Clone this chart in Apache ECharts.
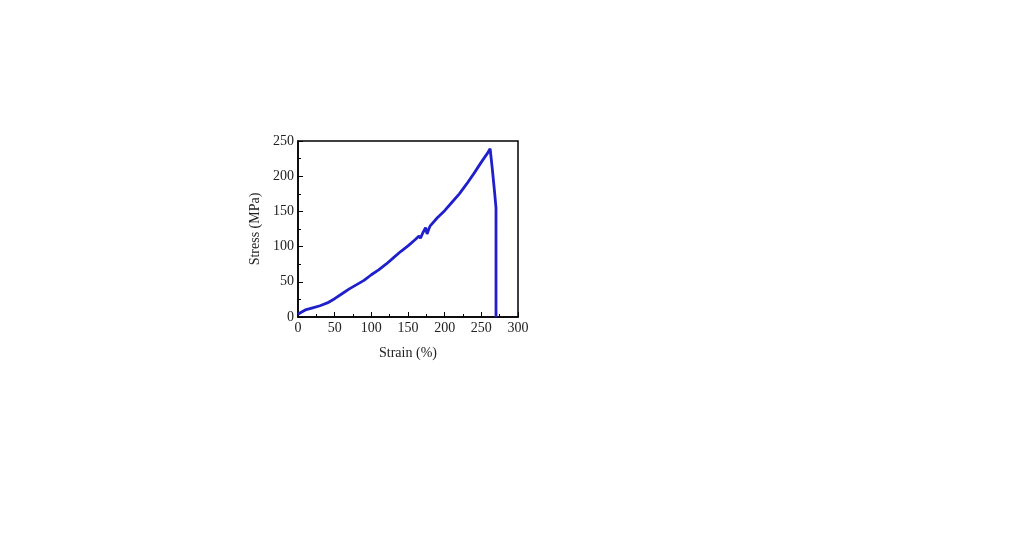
<!DOCTYPE html>
<html>
<head>
<meta charset="utf-8">
<script src="https://cdn.jsdelivr.net/npm/echarts@6/dist/echarts.min.js"></script>
<style>
html,body{margin:0;padding:0;background:#fff;}
#chart{width:1024px;height:549px;}
</style>
</head>
<body>
<div id="chart"></div>
<script>
// strain (%) and stress (MPa)
var strain = [0, 5, 10, 20, 30, 40, 50, 60, 70, 80, 90, 100, 110, 120, 130, 140, 150, 160, 165, 167, 170, 174, 176, 178, 180, 190, 200, 210, 220, 230, 240, 250, 258, 262, 265, 268, 270, 270];
var stress = [4, 7, 10, 13, 16, 20, 26, 33, 40, 46, 52, 60, 67, 75, 84, 93, 101, 110, 115, 112, 119, 127, 118, 124, 129, 141, 151, 163, 175, 189, 204, 220, 232, 239, 210, 178, 155, 0];
var xTicks = [0, 300, 50];
var yTicks = [0, 250, 50];

var pts = [];
for (var i = 0; i < strain.length; i++) {
    pts.push([strain[i], stress[i]]);
}

var font = 'Liberation Serif';
var myChart = echarts.init(document.getElementById('chart'));
var option = {
    backgroundColor: '#ffffff',
    animation: false,
    grid: {
        left: 298,
        top: 141,
        width: 220,
        height: 176,
        show: true,
        borderColor: '#000',
        borderWidth: 1.5,
        backgroundColor: 'transparent'
    },
    xAxis: {
        type: 'value',
        min: xTicks[0],
        max: xTicks[1],
        interval: xTicks[2],
        name: 'Strain (%)',
        nameLocation: 'middle',
        nameGap: 29,
        nameTextStyle: { fontFamily: font, fontSize: 14, color: '#222' },
        axisLine: { lineStyle: { color: '#000', width: 1.5 } },
        axisTick: { inside: true, length: 5, lineStyle: { color: '#000' } },
        minorTick: { show: true, splitNumber: 2, length: 3, lineStyle: { color: '#000' } },
        axisLabel: { fontFamily: font, fontSize: 14, color: '#222', margin: 4 },
        splitLine: { show: false }
    },
    yAxis: {
        type: 'value',
        min: yTicks[0],
        max: yTicks[1],
        interval: yTicks[2],
        name: 'Stress (MPa)',
        nameLocation: 'middle',
        nameGap: 36,
        nameTextStyle: { fontFamily: font, fontSize: 14, color: '#222' },
        axisLine: { lineStyle: { color: '#000', width: 1.5 } },
        axisTick: { inside: true, length: 5, lineStyle: { color: '#000' } },
        minorTick: { show: true, splitNumber: 2, length: 3, lineStyle: { color: '#000' } },
        axisLabel: { fontFamily: font, fontSize: 14, color: '#222', margin: 4 },
        splitLine: { show: false }
    },
    series: [{
        type: 'line',
        data: pts,
        showSymbol: false,
        lineStyle: { color: '#1f1fcc', width: 2.8 },
        clip: false
    }]
};
myChart.setOption(option);
</script>
</body>
</html>
